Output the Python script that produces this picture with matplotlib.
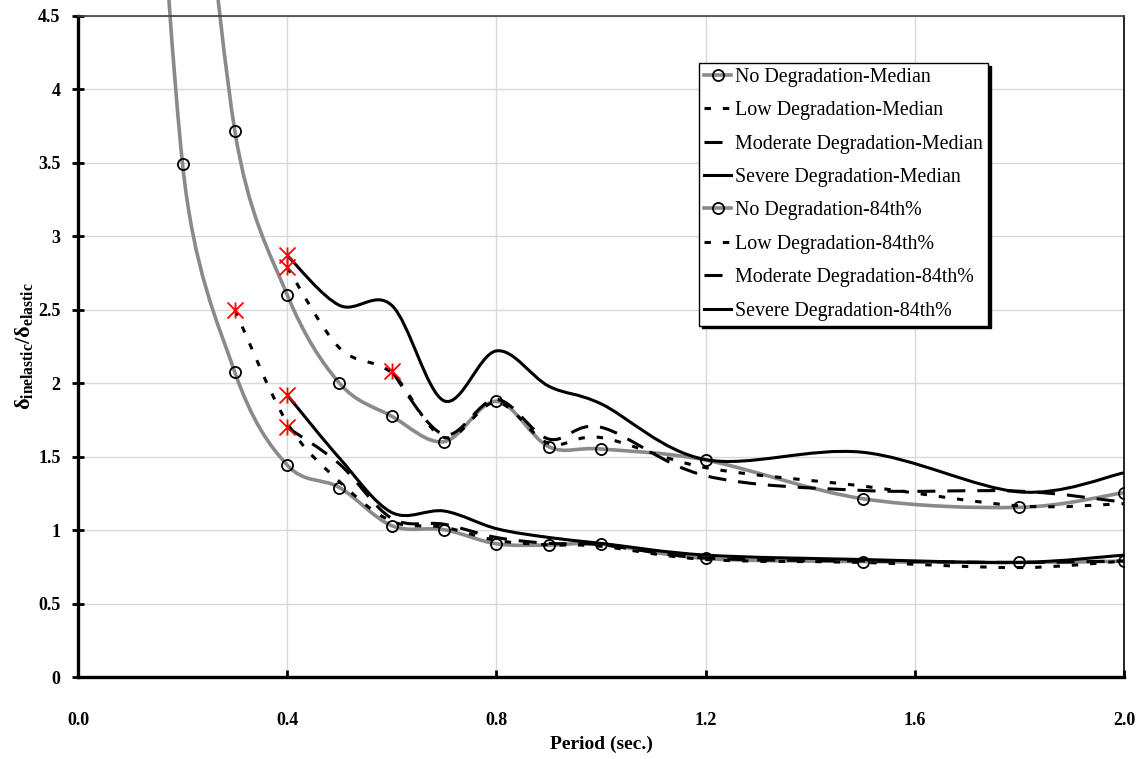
import numpy as np
import matplotlib.pyplot as plt
from matplotlib.path import Path
from matplotlib.patches import PathPatch
from matplotlib.lines import Line2D

plt.rcParams['font.family'] = ['Liberation Serif', 'DejaVu Serif']
plt.rcParams['mathtext.fontset'] = 'custom'
plt.rcParams['mathtext.rm'] = 'Liberation Serif'
plt.rcParams['mathtext.bf'] = 'Liberation Serif:bold'
plt.rcParams['mathtext.it'] = 'Liberation Serif:italic'

# periods (sec.)
period = [0.1, 0.2, 0.3, 0.4, 0.5, 0.6, 0.7, 0.8, 0.9, 1.0, 1.2, 1.5, 1.8, 2.0]

# median curves
no_med = [8.8, 3.49, 2.075, 1.443, 1.29, 1.03, 1.003, 0.907, 0.898, 0.905, 0.807, 0.786, 0.78, 0.789]
low_med = [2.50, 1.73, 1.33, 1.06, 1.02, 0.93, 0.90, 0.89, 0.80, 0.78, 0.745, 0.79]
mod_med = [1.70, 1.45, 1.08, 1.04, 0.95, 0.91, 0.90, 0.81, 0.79, 0.78, 0.79]
sev_med = [1.92, 1.49, 1.12, 1.13, 1.01, 0.95, 0.91, 0.83, 0.80, 0.78, 0.83]

# 84th percentile curves
no_84 = [7.0, 3.717, 2.602, 2.0, 1.775, 1.602, 1.877, 1.568, 1.552, 1.477, 1.214, 1.155, 1.255]
low_84 = [2.79, 2.24, 2.07, 1.63, 1.87, 1.59, 1.63, 1.425, 1.30, 1.165, 1.18]
mod_84 = [2.08, 1.65, 1.89, 1.62, 1.70, 1.37, 1.27, 1.265, 1.19]
sev_84 = [2.87, 2.53, 2.53, 1.88, 2.22, 1.98, 1.86, 1.48, 1.53, 1.26, 1.39]

labels = ['No Degradation-Median', 'Low Degradation-Median', 'Moderate Degradation-Median',
          'Severe Degradation-Median', 'No Degradation-84th%', 'Low Degradation-84th%',
          'Moderate Degradation-84th%', 'Severe Degradation-84th%']

xticks = [0.0, 0.4, 0.8, 1.2, 1.6, 2.0]
xtick_labels = ['0.0', '0.4', '0.8', '1.2', '1.6', '2.0']
yticks = [0, 0.5, 1, 1.5, 2, 2.5, 3, 3.5, 4, 4.5]
ytick_labels = ['0', '0.5', '1', '1.5', '2', '2.5', '3', '3.5', '4', '4.5']

GRAY = '#8a8a8a'
DOT = (0, (2.1, 3.9))
DASH = (0, (5.9, 3.9))

FIG_W, FIG_H = 11.43, 7.59
AX_RECT = [0.0682, 0.108, 0.9152, 0.871]
XMAX, YMAX = 2.0, 4.5
# pixels per data unit, so the smoothing works in screen space like Excel
SX = AX_RECT[2] * FIG_W * 100 / XMAX
SY = AX_RECT[3] * FIG_H * 100 / YMAX


def smooth_path(x, y):
    # Excel-like smoothed line: cubic Bezier, handle length capped at half a segment
    pts = np.column_stack([np.asarray(x, float) * SX, np.asarray(y, float) * SY])
    n = len(pts)
    verts = [pts[0]]
    codes = [Path.MOVETO]
    for i in range(n - 1):
        p0 = pts[max(i - 1, 0)]
        p1 = pts[i]
        p2 = pts[i + 1]
        p3 = pts[min(i + 2, n - 1)]
        d12 = np.hypot(*(p2 - p1))
        d02 = np.hypot(*(p2 - p0))
        d13 = np.hypot(*(p3 - p1))
        f0 = 1 / 6 if d02 / 6 < d12 / 2 else d12 / d02 / 2
        f1 = 1 / 6 if d13 / 6 < d12 / 2 else d12 / d13 / 2
        verts += [p1 + (p2 - p0) * f0, p2 - (p3 - p1) * f1, p2]
        codes += [Path.CURVE4] * 3
    verts = np.array(verts) / [SX, SY]
    return Path(verts, codes)


def draw(ax, x, y, color, lw, ls, z, clip=True):
    patch = PathPatch(smooth_path(x, y), fill=False, edgecolor=color, lw=lw,
                      linestyle=ls, capstyle='butt', joinstyle='round', zorder=z)
    patch.set_clip_on(clip)
    ax.add_patch(patch)


fig = plt.figure(figsize=(FIG_W, FIG_H), dpi=100)
ax = fig.add_axes(AX_RECT)

series = [
    (period, no_med, GRAY, 2.6, '-'),
    (period[2:], low_med, 'k', 2.2, DOT),
    (period[3:], mod_med, 'k', 2.2, DASH),
    (period[3:], sev_med, 'k', 2.2, '-'),
    (period[1:], no_84, GRAY, 2.6, '-'),
    (period[3:], low_84, 'k', 2.2, DOT),
    (period[5:], mod_84, 'k', 2.2, DASH),
    (period[3:], sev_84, 'k', 2.2, '-'),
]

star = Path([(0, -1), (0, 1), (-1, -1), (1, 1), (-1, 1), (1, -1)],
            [Path.MOVETO, Path.LINETO, Path.MOVETO, Path.LINETO, Path.MOVETO, Path.LINETO])

handles = []
for (x, y, c, lw, ls), lab in zip(series, labels):
    if c == GRAY:
        draw(ax, x, y, c, lw, ls, 2, clip=False)
        ax.plot(x, y, ls='none', marker='o', ms=8, mfc='none', mec='k', mew=1.3, zorder=5)
        handles.append(Line2D([], [], color=c, lw=lw, marker='o', ms=8, mfc='none',
                              mec='k', mew=1.3, label=lab))
    else:
        draw(ax, x, y, c, lw, ls, 3)
        ax.plot(x[0], y[0], ls='none', marker=star, ms=11.5, mec='red', mew=1.3, zorder=6)
        handles.append(Line2D([], [], color=c, lw=lw, ls=ls, dash_capstyle='butt', label=lab))

ax.set_xlim(0, XMAX)
ax.set_ylim(0, YMAX)
ax.set_xticks(xticks)
ax.set_xticklabels(xtick_labels)
ax.set_yticks(yticks)
ax.set_yticklabels(ytick_labels)
ax.grid(True, color='#d9d9d9', lw=1)
ax.set_axisbelow(True)

for lab in ax.get_xticklabels() + ax.get_yticklabels():
    lab.set_fontweight('bold')
    lab.set_fontsize(13)
ax.tick_params(axis='x', direction='in', length=5, width=2, pad=25)
ax.tick_params(axis='y', direction='inout', length=9, width=2, pad=8)

ax.spines['left'].set_linewidth(2.4)
ax.spines['bottom'].set_linewidth(2.4)
ax.spines['top'].set_linewidth(1.2)
ax.spines['top'].set_color('#404040')
ax.spines['right'].set_linewidth(1.2)

ax.set_xlabel('Period (sec.)', fontsize=14, fontweight='bold', labelpad=5)
ax.set_ylabel(r'δ$_{\mathbf{inelastic}}$/δ$_{\mathbf{elastic}}$', fontsize=16, fontweight='bold')
ax.yaxis.set_label_coords(-0.041, 0.5)

leg = ax.legend(handles=handles, loc='upper right', bbox_to_anchor=(0.870, 0.929),
                borderaxespad=0, fontsize=14.4, frameon=True, fancybox=False,
                shadow={'color': 'black', 'alpha': 1}, handlelength=1.35,
                handletextpad=0.2, labelspacing=0.72, borderpad=0.25, numpoints=1)
leg.get_frame().set_edgecolor('black')
leg.get_frame().set_linewidth(1.0)
leg.get_frame().set_alpha(1)

fig.savefig('out.png', dpi=100)
